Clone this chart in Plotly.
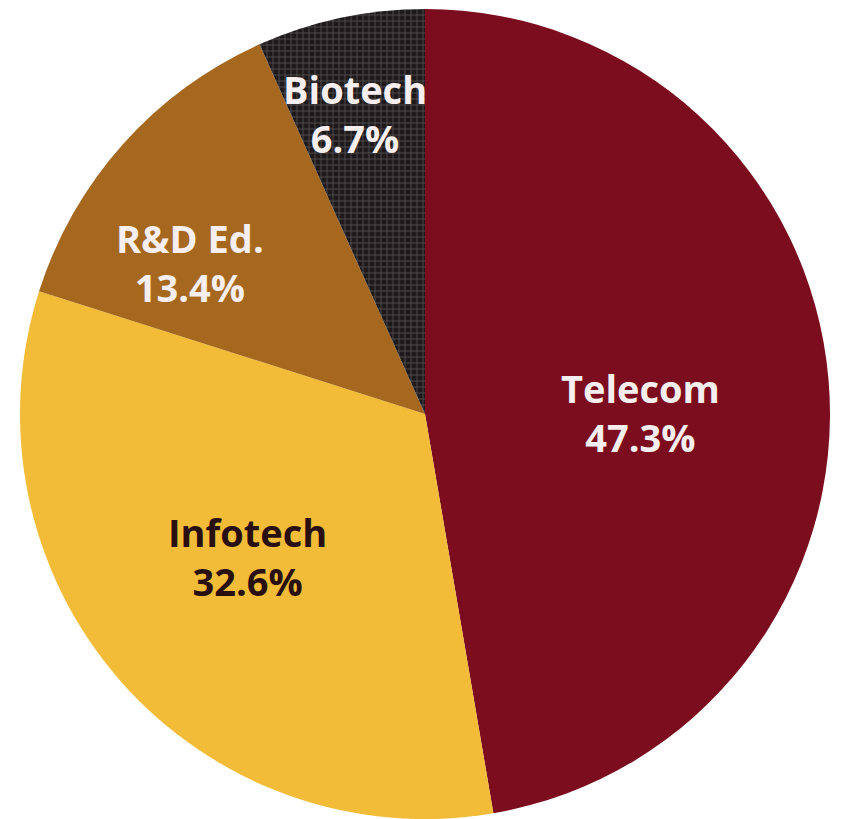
import plotly.graph_objects as go

labels = ["Telecom", "Infotech", "R&D Ed.", "Biotech"]
values = [47.3, 32.6, 13.4, 6.7]
pct_text = ["47.3%", "32.6%", "13.4%", "6.7%"]
colors = ["#7b0d1e", "#f2bc38", "#a6681f", "#221e20"]
text_colors = ["#f7eef0", "#2a0f10", "#f7eef0", "#f7eef0"]
# label block centres in pixels
label_pos = [(640, 412), (247, 556), (190, 262), (355, 114)]

W, H = 841, 819
cx, cy, r = 425, 414, 405

fig = go.Figure()
fig.add_trace(go.Pie(
    labels=labels, values=values, sort=False, direction="clockwise", rotation=0,
    textinfo="none", hoverinfo="label+percent",
    marker=dict(colors=colors, line=dict(width=0),
                pattern=dict(shape=["", "", "", "+"], fillmode="replace",
                             bgcolor=["#7b0d1e", "#f2bc38", "#a6681f", "#1e1a1c"],
                             fgcolor="#4e4a4c", size=6, solidity=0.3)),
    domain=dict(x=[(cx - r) / W, (cx + r) / W], y=[1 - (cy + r) / H, 1 - (cy - r) / H]),
    showlegend=False,
))

anns = []
for lab, pct, tc, (px, py) in zip(labels, pct_text, text_colors, label_pos):
    anns.append(dict(x=px / W, y=1 - py / H, xref="paper", yref="paper",
                     text=f"{lab}<br>{pct}", showarrow=False, xanchor="center", yanchor="middle",
                     align="center",
                     font=dict(family="Open Sans", size=38, color=tc, weight=700)))

fig.update_layout(width=W, height=H, margin=dict(l=0, r=0, t=0, b=0),
                  paper_bgcolor="white", plot_bgcolor="white", annotations=anns)
fig.write_html("out.html")
